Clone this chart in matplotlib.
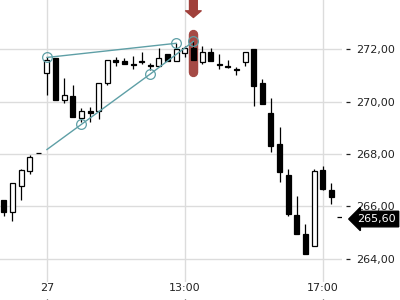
import matplotlib
matplotlib.use("Agg")
import matplotlib.pyplot as plt
import matplotlib.transforms as mtransforms
from matplotlib.ticker import FuncFormatter

# -------- DATA --------
# candle positions (one per 15 min, 0 = 27th 09:00)
idx = list(range(-5, 35))
opens = [266.24, 265.77, 266.77, 267.34, 268.02,
         271.07, 271.67, 270.05, 270.21, 269.39, 269.63, 269.63, 270.69,
         271.58, 271.54, 271.43, 271.56, 271.40, 271.36, 271.80, 271.54,
         271.84, 272.03, 271.52, 271.87, 271.42, 271.35, 271.24, 271.49,
         272.00, 270.69, 269.58, 268.37, 267.19, 265.66, 264.94, 264.49,
         267.38, 266.62, 265.60]
highs = [266.24, 266.91, 267.41, 267.98, 268.02,
         271.69, 271.67, 270.88, 270.63, 269.76, 269.79, 270.69, 271.60,
         271.71, 271.67, 271.73, 271.87, 271.47, 272.03, 271.80, 272.24,
         272.13, 272.29, 272.11, 272.03, 271.81, 271.58, 271.30, 271.87,
         272.00, 270.86, 270.14, 269.03, 267.42, 266.40, 265.35, 267.42,
         267.53, 266.90, 265.60]
lows = [265.63, 265.45, 266.24, 267.23, 268.02,
        270.24, 270.05, 269.94, 269.42, 269.21, 269.23, 269.32, 270.63,
        271.36, 271.42, 271.23, 271.42, 271.20, 271.36, 271.54, 271.54,
        271.71, 271.58, 271.42, 271.55, 271.23, 271.26, 271.03, 271.36,
        269.84, 269.89, 268.08, 266.94, 265.64, 264.94, 264.18, 264.49,
        266.62, 266.08, 265.60]
closes = [265.79, 266.91, 267.38, 267.87, 268.02,
          271.58, 270.05, 270.24, 269.42, 269.63, 269.58, 270.69, 271.58,
          271.49, 271.42, 271.40, 271.52, 271.37, 271.67, 271.54, 272.00,
          272.03, 271.58, 271.87, 271.55, 271.39, 271.32, 271.21, 271.87,
          270.60, 269.89, 268.31, 267.32, 265.70, 264.94, 264.18, 267.34,
          266.68, 266.36, 265.60]

# trend lines
upper_x = [0, 15]
upper_y = [271.68, 272.22]
lower_x = [0, 4, 12, 17]
lower_y = [268.17, 269.13, 271.05, 272.29]
lower_marks = [1, 2, 3]

highlight_idx = 17
last_price = 265.60

tick_pos = [0, 16, 32]
tick_labels = ["27", "13:00", "17:00"]
y_ticks = [264, 266, 268, 270, 272]

TEAL = "#5e9fa6"
RED = "#a0403b"

# -------- CHART --------
plt.rcParams["font.family"] = ["DejaVu Sans"]
fig = plt.figure(figsize=(4, 3), dpi=100)
ax = fig.add_axes([0, 0.06, 0.855, 0.94])

ax.set_xlim(-5.45, 34.25)
ax.set_ylim(263.12, 273.87)

# highlighted candle + arrow
ax.plot([highlight_idx, highlight_idx], [271.12, 272.57], color=RED,
        lw=6.8, solid_capstyle="round", alpha=0.95, zorder=1)
ax.annotate("", xy=(highlight_idx, 1 - 17.5 / 282), xycoords=("data", "axes fraction"),
            xytext=(highlight_idx, 1.0), textcoords=("data", "axes fraction"),
            arrowprops=dict(arrowstyle="simple,head_length=0.6,head_width=1.4,tail_width=0.7",
                            mutation_scale=8, color=RED, shrinkA=0, shrinkB=0),
            annotation_clip=False, zorder=5)

# candles
for x, o, h, l, c in zip(idx, opens, highs, lows, closes):
    ax.vlines(x, l, h, color="black", lw=0.9, zorder=2)
    bottom = min(o, c)
    height = max(abs(c - o), 0.001)
    fc = "white" if c > o else "black"
    ax.bar(x, height, bottom=bottom, width=0.58, facecolor=fc,
           edgecolor="black", lw=0.9, zorder=3)

# trend lines
ax.plot(upper_x, upper_y, color=TEAL, lw=1.0, zorder=4)
ax.plot(upper_x, upper_y, "o", ms=7, mfc="none", mec=TEAL, mew=0.9, zorder=4)
ax.plot(lower_x, lower_y, color=TEAL, lw=1.0, zorder=4)
ax.plot([lower_x[i] for i in lower_marks], [lower_y[i] for i in lower_marks], "o",
        ms=7, mfc="none", mec=TEAL, mew=0.9, zorder=4)

# axes styling
for s in ax.spines.values():
    s.set_visible(False)
ax.grid(True, color="#dcdcdc", lw=1.0)
ax.set_axisbelow(True)

ax.yaxis.tick_right()
ax.spines["right"].set_position(("outward", 3))
ax.set_yticks(y_ticks)
ax.yaxis.set_major_formatter(FuncFormatter(lambda v, p: f"{v:.2f}".replace(".", ",")))
ax.tick_params(axis="y", direction="out", length=3, width=0.9, pad=4,
               labelsize=8, colors="#222222")

ax.set_xticks(tick_pos)
ax.set_xticklabels(tick_labels)
ax.spines["bottom"].set_position(("outward", 12))
ax.tick_params(axis="x", direction="out", length=3, width=0.9, pad=-14,
               labelsize=8, colors="#222222")

# last price tag
trans = mtransforms.blended_transform_factory(ax.transAxes, ax.transData)
ax.annotate(f"{last_price:.2f}".replace(".", ","), xy=(1.0, last_price), xycoords=trans,
            xytext=(11, -1.5), textcoords="offset points", ha="left", va="center",
            fontsize=8, color="white", annotation_clip=False,
            bbox=dict(boxstyle="larrow,pad=0.25", fc="black", ec="black"))

fig.savefig("out.png", dpi=100)
